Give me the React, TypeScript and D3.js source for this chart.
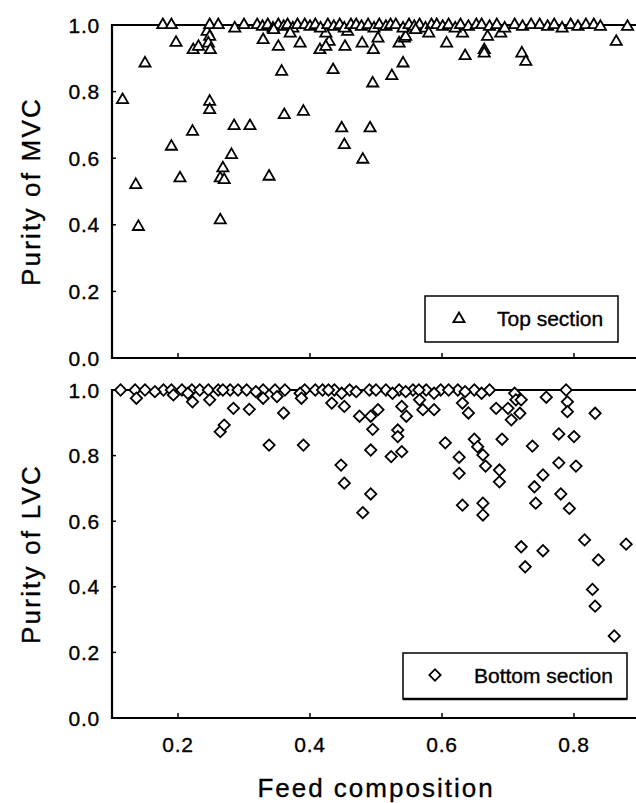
import React from "react";
import * as d3 from "d3";

// ---- data ----
const xTicks = [0.2, 0.4, 0.6, 0.8];
const xTickLabels = ["0.2", "0.4", "0.6", "0.8"];
const yTicks = [0.0, 0.2, 0.4, 0.6, 0.8, 1.0];
const yTickLabels = ["0.0", "0.2", "0.4", "0.6", "0.8", "1.0"];

const topX = [
  0.116, 0.15, 0.136, 0.14, 0.177, 0.19, 0.197, 0.19, 0.203, 0.223, 0.231, 0.222, 0.244, 0.248, 0.246, 0.249,
  0.248, 0.261, 0.248, 0.248, 0.264, 0.268, 0.27, 0.281, 0.264, 0.285, 0.286, 0.3, 0.309, 0.329, 0.338, 0.352,
  0.357, 0.361, 0.39, 0.385, 0.415, 0.429, 0.424, 0.453, 0.479, 0.496, 0.503, 0.535, 0.543, 0.435, 0.495, 0.524,
  0.541, 0.448, 0.452, 0.491, 0.48, 0.607, 0.635, 0.664, 0.664, 0.669, 0.721, 0.727, 0.864, 0.881, 0.457, 0.545,
  0.424, 0.631, 0.689,
  0.32, 0.328, 0.336, 0.344, 0.352, 0.36, 0.366, 0.374, 0.381, 0.392, 0.4, 0.408, 0.416, 0.427, 0.436, 0.445,
  0.452, 0.462, 0.47, 0.478, 0.488, 0.497, 0.505, 0.515, 0.522, 0.53, 0.541, 0.55, 0.558, 0.566, 0.575, 0.584,
  0.592, 0.601, 0.61, 0.62, 0.628, 0.64, 0.652, 0.66, 0.672, 0.683, 0.695, 0.71, 0.722, 0.735, 0.748, 0.76,
  0.77, 0.782, 0.795, 0.806, 0.818, 0.83, 0.84, 0.345, 0.37, 0.56, 0.58,
];
const topY = [
  0.775, 0.885, 0.52, 0.394, 1.0, 1.0, 0.947, 0.635, 0.54, 0.925, 0.935, 0.68, 0.98, 0.965, 0.945, 0.925,
  1.0, 1.0, 0.77, 0.745, 0.54, 0.57, 0.535, 0.61, 0.414, 0.697, 0.99, 1.0, 0.697, 0.955, 0.545, 0.935,
  0.86, 0.73, 0.74, 0.945, 0.925, 0.95, 0.935, 0.935, 0.945, 0.925, 0.96, 0.945, 0.96, 0.865, 0.825, 0.847,
  0.885, 0.69, 0.64, 0.69, 0.596, 0.945, 0.907, 0.925, 0.915, 0.965, 0.915, 0.89, 0.95, 0.995, 0.98, 0.965,
  0.975, 0.975, 0.975,
  1.0, 0.995, 1.0, 0.99, 1.0, 0.995, 1.0, 0.99, 1.0, 1.0, 0.995, 1.0, 0.99, 1.0, 0.995, 1.0,
  0.99, 1.0, 1.0, 0.995, 1.0, 0.99, 1.0, 0.995, 1.0, 1.0, 0.99, 1.0, 0.995, 1.0, 0.99, 1.0,
  1.0, 0.995, 1.0, 0.99, 1.0, 0.995, 1.0, 1.0, 0.995, 1.0, 0.99, 1.0, 0.995, 1.0, 1.0, 0.995,
  1.0, 0.99, 1.0, 0.995, 1.0, 1.0, 0.995, 0.985, 0.975, 0.985, 0.975,
];

const botX = [
  0.113, 0.135, 0.15, 0.178, 0.19, 0.206, 0.221, 0.233, 0.246, 0.261, 0.279, 0.291, 0.304, 0.329, 0.347, 0.362,
  0.392, 0.408, 0.419, 0.437, 0.46, 0.49, 0.515, 0.535, 0.556, 0.576, 0.598, 0.624, 0.649, 0.672, 0.71, 0.788,
  0.165, 0.215, 0.268, 0.318, 0.385, 0.428, 0.448, 0.47, 0.5, 0.525, 0.545, 0.565, 0.588, 0.61, 0.635, 0.66,
  0.137, 0.193, 0.222, 0.248, 0.284, 0.308, 0.329, 0.35, 0.36, 0.264, 0.27, 0.338, 0.39, 0.387,
  0.433, 0.452, 0.475, 0.503, 0.492, 0.495, 0.492, 0.447, 0.452, 0.492, 0.48, 0.523, 0.539, 0.533, 0.533, 0.539,
  0.546, 0.566, 0.571, 0.588, 0.605, 0.626, 0.626, 0.631, 0.631, 0.64, 0.649, 0.654, 0.662, 0.666, 0.662, 0.662,
  0.682, 0.687, 0.687, 0.691, 0.7, 0.705, 0.712, 0.72, 0.718, 0.737, 0.74, 0.753, 0.742, 0.72, 0.726, 0.753,
  0.758, 0.777, 0.777, 0.78, 0.793, 0.8, 0.803, 0.79, 0.79, 0.832, 0.816, 0.837, 0.828, 0.832, 0.861, 0.879,
];
const botY = [
  1.0, 1.0, 1.0, 1.0, 1.0, 1.0, 1.0, 1.0, 1.0, 1.0, 1.0, 1.0, 1.0, 1.0, 1.0, 1.0,
  1.0, 1.0, 1.0, 1.0, 1.0, 1.0, 1.0, 1.0, 1.0, 1.0, 1.0, 1.0, 1.0, 1.0, 0.99, 1.0,
  0.995, 0.99, 1.0, 0.995, 0.99, 1.0, 0.99, 0.995, 1.0, 0.99, 0.995, 1.0, 0.99, 1.0, 0.995, 0.99,
  0.975, 0.985, 0.964, 0.97, 0.944, 0.941, 0.975, 0.98, 0.93, 0.873, 0.893, 0.832, 0.832, 0.975,
  0.96, 0.95, 0.92, 0.94, 0.92, 0.88, 0.817, 0.771, 0.716, 0.683, 0.626, 0.797, 0.812, 0.878, 0.858, 0.95,
  0.92, 0.97, 0.94, 0.94, 0.839, 0.795, 0.746, 0.649, 0.96, 0.93, 0.85, 0.827, 0.802, 0.768, 0.655, 0.619,
  0.944, 0.756, 0.72, 0.85, 0.944, 0.909, 0.97, 0.97, 0.929, 0.829, 0.705, 0.741, 0.655, 0.522, 0.461, 0.51,
  0.978, 0.866, 0.778, 0.683, 0.639, 0.858, 0.768, 0.964, 0.934, 0.929, 0.543, 0.482, 0.392, 0.341, 0.25, 0.53,
];

const legendTop = "Top section";
const legendBottom = "Bottom section";
const yTitleTop = "Purity of MVC";
const yTitleBottom = "Purity of LVC";
const xTitle = "Feed composition";

const W = 636;
const H = 803;
const FONT = "'Liberation Sans', Arial, Helvetica, sans-serif";

const x = d3.scaleLinear().domain([0.1, 1.0]).range([112, 706]);
const yTop = d3.scaleLinear().domain([0, 1]).range([358, 25]);
const yBot = d3.scaleLinear().domain([0, 1]).range([718, 390]);

const triPath = d3.symbol().type(d3.symbolTriangle).size(54)() as string;
const diaPath = d3.symbol().type(d3.symbolSquare).size(64)() as string;

const textStroke = { stroke: "#000", strokeWidth: 0.35 };

function Panel({ y, title, showXLabels }: { y: d3.ScaleLinear<number, number>; title: string; showXLabels: boolean }) {
  const [y0, y1] = y.range();
  const xl = x(0.1);
  const cy = (y0 + y1) / 2;
  return (
    <g>
      <line x1={xl} x2={W} y1={y1} y2={y1} stroke="#000" strokeWidth={2} />
      <line x1={xl} x2={W} y1={y0} y2={y0} stroke="#000" strokeWidth={2.2} />
      <line x1={xl} x2={xl} y1={y1 - 1} y2={y0 + 1} stroke="#000" strokeWidth={2.2} />
      {yTicks.map((t, i) => (
        <g key={i}>
          {t > 0 && t < 1 && <line x1={xl} x2={xl + 4} y1={y(t)} y2={y(t)} stroke="#000" strokeWidth={1.5} />}
          <text x={100} y={y(t)} dy="0.36em" textAnchor="end" fontSize={21} fontFamily={FONT} letterSpacing={0.8} {...textStroke}>
            {yTickLabels[i]}
          </text>
        </g>
      ))}
      {xTicks.map((t, i) => (
        <g key={i}>
          <line x1={x(t)} x2={x(t)} y1={y0} y2={y0 - 5} stroke="#000" strokeWidth={1.5} />
          {showXLabels && (
            <text x={x(t)} y={752} textAnchor="middle" fontSize={21} fontFamily={FONT} letterSpacing={0.8} {...textStroke}>
              {xTickLabels[i]}
            </text>
          )}
        </g>
      ))}
      <text
        transform={`translate(40,${cy}) rotate(-90)`}
        textAnchor="middle"
        fontSize={26}
        fontFamily={FONT}
        letterSpacing={2.2}
        {...textStroke}
      >
        {title}
      </text>
    </g>
  );
}

export default function App() {
  return (
    <svg
      width={W}
      height={H}
      viewBox={`0 0 ${W} ${H}`}
      style={{ position: "absolute", left: 0, top: 0, background: "#fff" }}
    >
      <rect width={W} height={H} fill="#fff" />
      <Panel y={yTop} title={yTitleTop} showXLabels={false} />
      <Panel y={yBot} title={yTitleBottom} showXLabels={true} />

      {topX.map((v, i) => (
        <path
          key={"t" + i}
          d={triPath}
          transform={`translate(${x(v)},${yTop(topY[i])})`}
          fill="#fff"
          stroke="#000"
          strokeWidth={1.8}
        />
      ))}
      {botX.map((v, i) => (
        <path
          key={"b" + i}
          d={diaPath}
          transform={`translate(${x(v)},${yBot(botY[i])}) rotate(45)`}
          fill="#fff"
          stroke="#000"
          strokeWidth={1.8}
        />
      ))}

      {/* legends */}
      <g>
        <rect x={425} y={296} width={193} height={46} fill="#fff" stroke="#000" strokeWidth={1.5} />
        <path d={triPath} transform="translate(459,319)" fill="#fff" stroke="#000" strokeWidth={1.8} />
        <text x={497} y={326} fontSize={21} fontFamily={FONT} {...textStroke}>{legendTop}</text>
      </g>
      <g>
        <rect x={403} y={653} width={224} height={46} fill="#fff" stroke="#000" strokeWidth={1.5} />
        <line x1={403} x2={627} y1={699} y2={699} stroke="#000" strokeWidth={2.5} />
        <path d={diaPath} transform="translate(435,675) rotate(45)" fill="#fff" stroke="#000" strokeWidth={1.8} />
        <text x={474} y={683} fontSize={21} fontFamily={FONT} {...textStroke}>{legendBottom}</text>
      </g>

      <text x={376} y={797} textAnchor="middle" fontSize={26} fontFamily={FONT} letterSpacing={2} {...textStroke}>
        {xTitle}
      </text>
    </svg>
  );
}
